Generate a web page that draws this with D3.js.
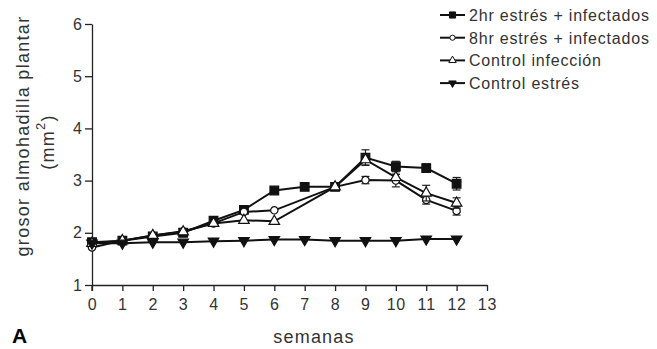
<!DOCTYPE html>
<html>
<head>
<meta charset="utf-8">
<script src="https://cdn.jsdelivr.net/npm/d3@7"></script>
<style>
  body { margin: 0; background: #fff; }
  text { font-family: "Liberation Sans", Arial, sans-serif; fill: #333; }
</style>
</head>
<body>
<svg id="chart" width="657" height="349"></svg>
<script>
// weeks
const weeks = [0, 1, 2, 3, 4, 5, 6, 7, 8, 9, 10, 11, 12];

// series values (null = no measurement that week)
const stress2h   = [1.82, 1.85, 1.93, 2.00, 2.23, 2.44, 2.81, 2.88, 2.88, 3.44, 3.27, 3.24, 2.94];
const stress8h   = [1.72, 1.85, 1.95, 2.03, 2.18, 2.40, 2.43, null, 2.88, 3.01, 3.00, 2.63, 2.42];
const ctrlInf    = [1.80, 1.85, 1.95, 2.02, 2.18, 2.24, 2.22, null, 2.88, 3.40, 3.06, 2.76, 2.57];
const ctrlStress = [1.80, 1.80, 1.82, 1.82, 1.84, 1.85, 1.87, 1.87, 1.85, 1.85, 1.85, 1.88, 1.88];

// error bars (only where visible)
const err2h   = [0, 0, 0, 0, 0, 0, 0, 0, 0, 0.15, 0.10, 0.08, 0.12];
const err8h   = [0, 0, 0, 0, 0, 0, 0, 0, 0, 0.07, 0.12, 0.08, 0.08];
const errInf  = [0, 0, 0, 0, 0, 0, 0, 0, 0, 0.10, 0.06, 0.15, 0.10];

const seriesNames = ["2hr estrés + infectados", "8hr estrés + infectados", "Control infección", "Control estrés"];
const xTicks = d3.range(0, 14);
const yTicks = [1, 2, 3, 4, 5, 6];

const series = [
  { name: seriesNames[0], values: stress2h, errs: err2h, symbol: d3.symbolSquare, size: 75, fill: "#111" },
  { name: seriesNames[1], values: stress8h, errs: err8h, symbol: d3.symbolCircle, size: 42, fill: "#fff" },
  { name: seriesNames[2], values: ctrlInf, errs: errInf, symbol: d3.symbolTriangle, size: 48, fill: "#fff" },
  { name: seriesNames[3], values: ctrlStress, errs: null, symbol: d3.symbolTriangle, size: 48, fill: "#111", flip: true }
];

const svg = d3.select("#chart");

const x = d3.scaleLinear().domain([0, 13]).range([92, 487]);
const y = d3.scaleLinear().domain([1, 6]).range([285, 24]);

// axes
svg.append("g")
    .attr("transform", `translate(0,${y(1)})`)
    .call(d3.axisBottom(x).tickValues(xTicks).tickSizeInner(6).tickSizeOuter(0).tickPadding(8))
    .call(g => g.selectAll("text").attr("font-size", 16).attr("letter-spacing", 0.8).attr("fill", "#333"))
    .call(g => g.selectAll("line,path").attr("stroke", "#222").attr("stroke-width", 1.3));

svg.append("g")
    .attr("transform", `translate(${x(0)},0)`)
    .call(d3.axisLeft(y).tickValues(yTicks).tickFormat(d3.format("d")).tickSizeInner(7).tickSizeOuter(0).tickPadding(3))
    .call(g => g.selectAll("text").attr("font-size", 16).attr("fill", "#333"))
    .call(g => g.selectAll("line,path").attr("stroke", "#222").attr("stroke-width", 1.3))
    .call(g => g.append("line").attr("y1", y(1)).attr("y2", y(1) + 6).attr("stroke", "#222").attr("stroke-width", 1.3));

// axis titles
svg.append("text")
    .attr("transform", "translate(29,136) rotate(-90)")
    .attr("text-anchor", "middle")
    .attr("font-size", 18)
    .attr("letter-spacing", 1.3)
    .text("grosor almohadilla plantar");

const unit = svg.append("text")
    .attr("transform", "translate(54,142) rotate(-90)")
    .attr("text-anchor", "middle")
    .attr("font-size", 18)
    .attr("letter-spacing", 1.3);
unit.append("tspan").text("(mm");
unit.append("tspan").attr("dy", -9).attr("font-size", 13).text("2");
unit.append("tspan").attr("dy", 9).text(")");

svg.append("text")
    .attr("x", 314).attr("y", 343)
    .attr("text-anchor", "middle")
    .attr("font-size", 18)
    .attr("letter-spacing", 1.2)
    .text("semanas");

svg.append("text")
    .attr("x", 12).attr("y", 343)
    .attr("font-size", 21)
    .attr("font-weight", "bold")
    .style("fill", "#000")
    .text("A");

// lines, error bars, markers
const line = d3.line().x(d => x(d.week)).y(d => y(d.value));

const seriesG = svg.selectAll("g.series").data(series).enter()
  .append("g").attr("class", "series");

seriesG.each(function(s){
    const g = d3.select(this);
    const pts = weeks.map((w, i) => ({ week: w, value: s.values[i], err: s.errs ? s.errs[i] : 0 }))
        .filter(d => d.value !== null);

    g.append("path")
        .datum(pts)
        .attr("fill", "none")
        .attr("stroke", "#111")
        .attr("stroke-width", 2)
        .attr("d", line);

    const eb = g.selectAll("g.err").data(pts.filter(d => d.err > 0)).enter()
        .append("g").attr("class", "err")
        .attr("stroke", "#222").attr("stroke-width", 1.2);
    eb.append("line")
        .attr("x1", d => x(d.week)).attr("x2", d => x(d.week))
        .attr("y1", d => y(d.value + d.err)).attr("y2", d => y(d.value - d.err));
    eb.append("line")
        .attr("x1", d => x(d.week) - 4).attr("x2", d => x(d.week) + 4)
        .attr("y1", d => y(d.value + d.err)).attr("y2", d => y(d.value + d.err));
    eb.append("line")
        .attr("x1", d => x(d.week) - 4).attr("x2", d => x(d.week) + 4)
        .attr("y1", d => y(d.value - d.err)).attr("y2", d => y(d.value - d.err));

    g.selectAll("path.marker").data(pts).enter()
        .append("path").attr("class", "marker")
        .attr("d", d3.symbol().type(s.symbol).size(s.size))
        .attr("transform", d => `translate(${x(d.week)},${y(d.value)})${s.flip ? " rotate(180)" : ""}`)
        .attr("fill", s.fill)
        .attr("stroke", "#111")
        .attr("stroke-width", 1.2);
});

// legend
const legend = svg.append("g").attr("transform", "translate(440,15)");
const legendRow = legend.selectAll("g.row").data(series).enter()
  .append("g").attr("class", "row")
  .attr("transform", (d, i) => `translate(0,${i * 22.7})`);

legendRow.append("line")
    .attr("x1", 0).attr("x2", 25)
    .attr("stroke", "#111").attr("stroke-width", 2);
legendRow.append("path")
    .attr("d", d => d3.symbol().type(d.symbol).size(d.size * 0.5)())
    .attr("transform", d => `translate(12.5,0)${d.flip ? " rotate(180)" : ""}`)
    .attr("fill", d => d.fill)
    .attr("stroke", "#111")
    .attr("stroke-width", 1);
legendRow.append("text")
    .attr("x", 29).attr("y", 6)
    .attr("font-size", 16)
    .attr("letter-spacing", 0.8)
    .text(d => d.name);
</script>
</body>
</html>
